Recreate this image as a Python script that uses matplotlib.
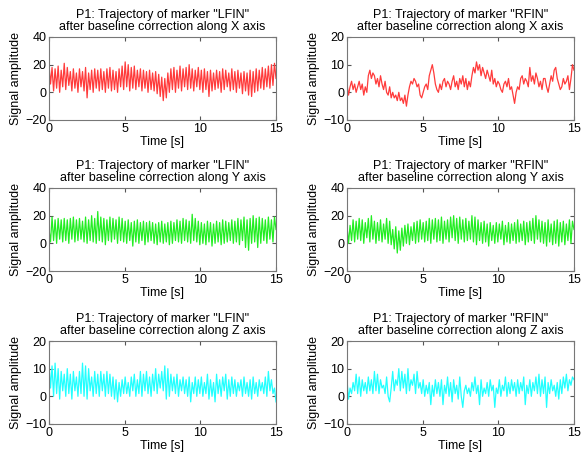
import numpy as np
import matplotlib
matplotlib.use("Agg")
import matplotlib.pyplot as plt

plt.rcParams['font.family'] = ['Liberation Sans', 'DejaVu Sans']

# marker displacement after baseline correction, 10 samples per second
lfin_x = [
    20, 6, 18, 1, 17, 3, 19, 0, 16, 4,
    21, 2, 18, 5, 15, 1, 17, 3, 14, 0,
    17, 4, 15, 1, 18, -4, 14, 2, 16, 0,
    17, 3, 16, 1, 17, 2, 15, 0, 17, 3,
    18, 1, 16, 2, 15, 0, 17, 4, 19, 2,
    22, 4, 20, 1, 18, 3, 19, 2, 16, 4,
    17, 1, 16, 3, 15, 0, 16, 2, 14, 1,
    15, -1, 13, -3, 11, -6, 10, -4, 14, 0,
    17, 2, 18, 0, 16, 3, 19, 1, 17, 4,
    18, 2, 20, 3, 17, 1, 16, 4, 18, 2,
    16, 0, 17, 2, 15, -3, 16, 1, 14, 2,
    16, 3, 15, 0, 17, 2, 16, 4, 14, 1,
    17, 2, 15, 0, 16, 3, 14, -1, 15, 1,
    14, -2, 16, -3, 15, 0, 17, 1, 16, 3,
    18, 2, 17, 4, 19, 3, 20, 5, 21, 10,
]
rfin_x = [
    3, -1, 2, 4, 1, 3, 0, 2, 4, 1,
    3, -1, 2, 0, 6, 8, 5, 7, 6, 3,
    5, 2, 6, 3, 1, 4, 0, -1, 2, -2,
    0, -2, -1, -3, 0, -3, -2, -4, -1, -5,
    -1, 2, 4, 3, 5, 4, 2, 3, -1, -2,
    0, 2, 3, 1, 6, 8, 10, 7, 3, 1,
    0, 3, 1, 4, 5, 2, 4, 3, 1, 4,
    6, 2, 4, 1, 5, 3, 6, 2, 5, 1,
    4, 2, 6, 9, 7, 11, 8, 10, 6, 9,
    7, 5, 8, 6, 4, 8, 3, 5, 2, 4,
    3, 1, 0, 3, 4, 2, 5, 1, 2, -1,
    -4, 0, 2, 1, 5, 6, 3, 5, 4, 2,
    9, 4, 6, 3, 7, 5, 2, 4, 1, 5,
    5, 2, 0, 3, 6, 4, 8, 9, 5, 3,
    1, 2, 5, 3, 4, 6, 1, 5, 10, 8,
]
lfin_y = [
    10, 1, 19, 2, 17, 0, 18, 3, 17, 1,
    18, 2, 17, 0, 18, 3, 19, 1, 17, 2,
    18, 3, 16, 1, 19, 0, 17, 2, 20, 1,
    18, 0, 23, 2, 19, 1, 18, -1, 17, 2,
    19, 1, 18, 3, 17, 0, 19, 2, 18, 1,
    16, 0, 17, 2, 15, -2, 16, 1, 17, 0,
    15, 2, 16, -1, 15, 1, 16, 2, 15, 0,
    14, -1, 15, 1, 16, 0, 14, 1, 15, -1,
    16, 0, 15, 2, 17, 1, 16, 0, 18, 2,
    17, 1, 16, 0, 21, 2, 18, 1, 16, -1,
    15, 0, 14, -1, 16, 1, 15, -2, 14, 0,
    16, 1, 15, -1, 17, 0, 16, 1, 15, 2,
    17, 0, 16, 1, 18, -1, 17, 2, 19, -3,
    17, -5, 18, 0, 20, 1, 18, -3, 19, 0,
    18, 2, 17, 0, 19, 3, 17, 1, 19, 10,
]
rfin_y = [
    12, 0, 13, 2, 17, 1, 16, 3, 18, 2,
    17, 0, 15, 4, 18, 1, 20, 3, 16, 0,
    15, 2, 17, 1, 14, 3, 18, 0, 16, -1,
    10, -4, 12, -7, 9, -5, 11, -2, 13, 0,
    14, -1, 12, 2, 15, 0, 16, 1, 17, 3,
    15, 1, 16, 2, 18, 0, 17, 3, 18, 1,
    17, 2, 19, 0, 16, 3, 17, 1, 19, 4,
    20, 2, 18, 0, 19, 3, 17, 1, 18, 2,
    16, 3, 20, 1, 19, -1, 17, 2, 15, 0,
    16, 1, 14, -2, 15, 2, 13, 0, 15, 1,
    14, 3, 16, -1, 13, 1, 15, 0, 14, 2,
    15, 0, 17, 1, 14, 2, 16, -1, 15, 1,
    16, 2, 18, 0, 20, 3, 17, 1, 16, 0,
    15, -2, 17, 1, 14, -1, 16, 0, 17, -2,
    15, 1, 16, -1, 14, 2, 17, 0, 16, 10,
]
lfin_z = [
    12, 3, 11, 0, 12, 1, 10, -1, 9, 2,
    8, 0, 10, 1, 8, -1, 9, 2, 7, 0,
    9, 1, 12, 0, 11, -1, 10, 2, 7, 0,
    9, 1, 8, 0, 9, 2, 8, 0, 9, 1,
    8, 0, 7, -1, 6, -2, 5, 0, 6, 1,
    7, 1, 5, 0, 7, 2, 8, 0, 6, 1,
    9, 0, 8, 2, 9, 1, 7, 0, 8, 2,
    10, 1, 8, 3, 9, 2, 11, -1, 10, 0,
    8, 2, 7, 1, 8, 0, 6, 2, 7, 1,
    6, 0, 7, -2, 5, 1, 7, 0, 6, 1,
    7, 0, 5, 1, 8, -1, 6, 0, 5, -2,
    8, 1, 6, 0, 7, 2, 8, -1, 6, 0,
    7, 1, 6, 0, 5, 2, 6, 0, 7, 1,
    5, 0, 6, -1, 7, 1, 5, 0, 6, 2,
    5, 1, 7, 0, 9, 2, 6, 1, 3, -2,
]
rfin_z = [
    6, -1, 3, 1, 5, 2, 8, 1, 7, 0,
    6, 2, 5, 1, 7, 2, 6, 1, 9, 2,
    8, 1, 6, 3, 4, 1, 7, 0, -2, 3,
    9, 2, 6, 4, 10, 2, 9, 3, 8, 1,
    10, 2, 6, 4, 8, 1, 9, 3, 5, 1,
    6, 0, 4, 1, 5, -3, 4, 0, 6, 1,
    5, 0, 6, -3, 4, 1, 7, 0, 5, -2,
    6, 1, 4, -1, 7, 0, -4, 2, 4, 1,
    3, 0, 5, 2, 7, 1, 4, -3, 6, 0,
    3, 1, 5, 0, 6, 2, 4, -4, 3, 1,
    6, 0, 4, 2, 7, 0, 5, 1, 6, 2,
    5, 0, 6, 1, 5, 2, 7, -3, 4, 1,
    6, 0, 5, 2, 7, 1, 8, 0, 6, 1,
    7, -4, 5, 1, 6, 2, 4, 0, 5, -1,
    6, 1, 7, 3, 8, 2, 6, 4, 7, 6,
]

markers = ["LFIN", "RFIN"]
axes_names = ["X", "Y", "Z"]
signals = [[lfin_x, rfin_x], [lfin_y, rfin_y], [lfin_z, rfin_z]]
colors = ["#ff3b3b", "#22ee22", "#22ffff"]
ylims = [[(-20, 40), (-10, 20)], [(-20, 40), (-20, 40)], [(-10, 20), (-10, 20)]]

t = np.linspace(0, 15, len(lfin_x))

fig = plt.figure(figsize=(5.82, 4.63), dpi=100)
lefts = [49 / 582, 347 / 582]
bottoms = [1 - 120 / 463, 1 - 271 / 463, 1 - 424 / 463]
w = 227 / 582
h = 83 / 463

for r in range(3):
    for c in range(2):
        ax = fig.add_axes([lefts[c], bottoms[r], w, h])
        ax.plot(t, signals[r][c], color=colors[r], lw=0.9)
        ax.set_xlim(0, 15)
        ax.set_ylim(*ylims[r][c])
        lo, hi = ylims[r][c]
        step = (hi - lo) // 3
        ax.set_yticks(np.arange(lo, hi + 1, step))
        ax.set_xticks([0, 5, 10, 15])
        ax.tick_params(direction='in', top=True, right=True, length=3,
                       labelsize=9, pad=2, color='#555555')
        for s in ax.spines.values():
            s.set_color('#777777')
            s.set_linewidth(0.8)
        ax.set_xlabel("Time [s]", fontsize=9, labelpad=1)
        ax.set_ylabel("Signal amplitude", fontsize=9, labelpad=2)
        ax.set_title('P1: Trajectory of marker "%s"\nafter baseline correction along %s axis'
                     % (markers[c], axes_names[r]), fontsize=9, pad=5, linespacing=1.05)

fig.savefig("out.png", dpi=100)
